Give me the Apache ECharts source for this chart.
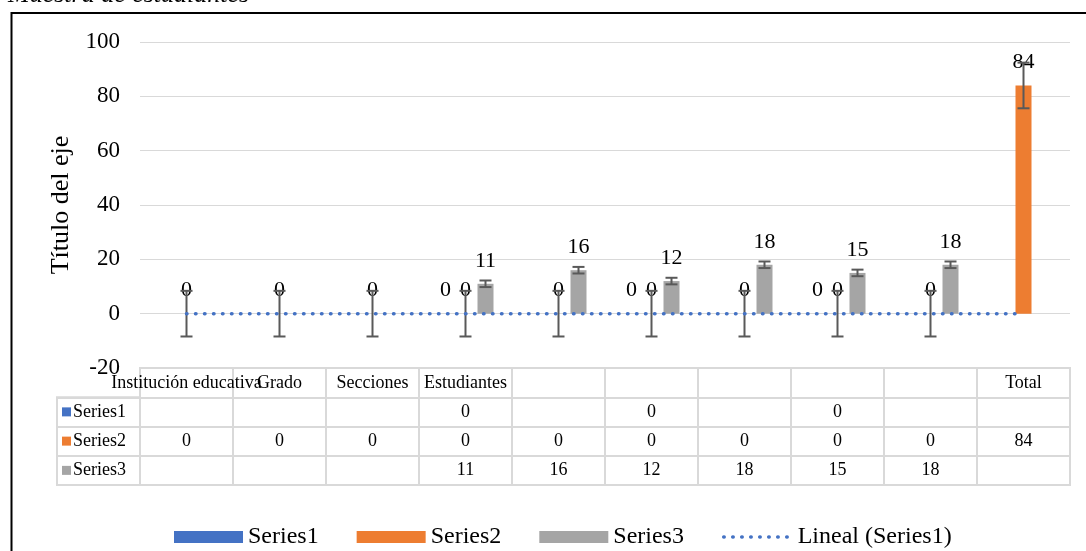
<!DOCTYPE html>
<html><head><meta charset="utf-8">
<script src="https://cdn.jsdelivr.net/npm/echarts@6/dist/echarts.min.js"></script>
<style>html,body{margin:0;padding:0;background:#fff}#c{width:1086px;height:551px}</style>
</head><body><div id="c"></div>
<script>
// ---- data ----
const categories = ['Institución educativa','Grado','Secciones','Estudiantes','','','','','','Total'];
const seriesNames = ['Series1','Series2','Series3'];
const series1 = [null,null,null,0,null,0,null,0,null,null];
const series2 = [0,0,0,0,0,0,0,0,0,84];
const series3 = [null,null,null,11,16,12,18,15,18,null];
const trendName = 'Lineal (Series1)';
const trend1 = [0,0,0,0,0,0,0,0,0,0];
const series2Error = 8.4;
const series3Error = 1.21;
const yMin = -20, yMax = 100, yInterval = 20;
const axisTitle = 'Título del eje';
const chartTitle = 'Muestra de estudiantes';

// ---- style ----
const SERIF = '"Liberation Serif","Times New Roman",serif';
const colors = ['#4472C4','#ED7D31','#A5A5A5'];
const GRID = '#d9d9d9';
const BAR_W = 16, BAR_GAP = 4;
const trendLine = { color: '#4472C4', width: 3.5, type: [0.5, 8.5], cap: 'round' };

const seriesArrs = [series1, series2, series3];
const cellData = [];
seriesArrs.forEach((arr, r) => arr.forEach((v, i) => { if (v != null) cellData.push([i, r + 1, String(v)]); }));

function errData(arr, e) {
  const out = [];
  arr.forEach((v, i) => { if (v != null) out.push([i, v - e, v + e]); });
  return out;
}
function errRender(offset) {
  return function (params, api) {
    const lo = api.coord([api.value(0), api.value(1)]);
    const hi = api.coord([api.value(0), api.value(2)]);
    const x = lo[0] + offset;
    const cw = 6;
    const st = { stroke: '#595959', lineWidth: 2 };
    return { type: 'group', children: [
      { type: 'line', shape: { x1: x, y1: lo[1], x2: x, y2: hi[1] }, style: st },
      { type: 'line', shape: { x1: x - cw, y1: lo[1], x2: x + cw, y2: lo[1] }, style: st },
      { type: 'line', shape: { x1: x - cw, y1: hi[1], x2: x + cw, y2: hi[1] }, style: st }
    ]};
  };
}

const chart = echarts.init(document.getElementById('c'), null, { renderer: 'canvas' });
const labelStyle = { show: true, position: 'top', distance: 12, fontFamily: SERIF, fontSize: 22, color: '#000' };

chart.setOption({
  animation: false,
  color: colors,
  textStyle: { fontFamily: SERIF },
  graphic: [
    { type: 'rect', silent: true, shape: { x: 11.5, y: 13, width: 1200, height: 1000 }, style: { fill: 'none', stroke: '#000', lineWidth: 2 } },
    { type: 'text', silent: true, x: 8, y: 8, style: { text: chartTitle, font: 'italic 26px "Liberation Serif"', fill: '#000', verticalAlign: 'bottom', textVerticalAlign: 'bottom' } }
  ],
  legend: {
    left: 169, top: 520, itemWidth: 69, itemHeight: 12, itemGap: 38,
    textStyle: { fontFamily: SERIF, fontSize: 24, color: '#000' },
    data: [
      { name: seriesNames[0], icon: 'rect' },
      { name: seriesNames[1], icon: 'rect' },
      { name: seriesNames[2], icon: 'rect' },
      { name: trendName, itemStyle: { opacity: 0 }, lineStyle: { color: trendLine.color, width: 3.5, type: [0.5, 8.5], cap: 'round' } }
    ]
  },
  grid: [
    { left: 140, right: 16, top: 42, height: 326 },
    { left: 140, right: 16, top: 368, height: 117, show: true, borderColor: GRID, borderWidth: 2 },
    { left: 57, width: 83, top: 397.25, height: 87.75, show: true, borderColor: GRID, borderWidth: 2 }
  ],
  xAxis: [
    { gridIndex: 0, type: 'category', data: categories,
      axisLine: { show: false, onZero: false }, axisTick: { show: false },
      axisLabel: { interval: 0, hideOverlap: false, margin: 6, fontFamily: SERIF, fontSize: 18, color: '#000' } },
    { gridIndex: 1, type: 'category', data: categories,
      axisLine: { show: false }, axisTick: { show: false }, axisLabel: { show: false },
      splitLine: { show: true, interval: 0, lineStyle: { color: GRID, width: 2 } } },
    { gridIndex: 2, type: 'category', data: [''], show: false }
  ],
  yAxis: [
    { gridIndex: 0, type: 'value', min: yMin, max: yMax, interval: yInterval,
      name: axisTitle, nameLocation: 'middle', nameGap: 65, nameRotate: 90,
      nameTextStyle: { fontFamily: SERIF, fontSize: 26, color: '#000' },
      axisLine: { show: false }, axisTick: { show: false },
      axisLabel: { margin: 20, fontFamily: SERIF, fontSize: 23, color: '#000' },
      splitLine: { lineStyle: { color: GRID, width: 1 } } },
    { gridIndex: 1, type: 'category', inverse: true, data: ['', seriesNames[0], seriesNames[1], seriesNames[2]],
      axisLine: { show: false }, axisTick: { show: false }, axisLabel: { show: false },
      splitLine: { show: true, interval: 0, lineStyle: { color: GRID, width: 2 } } },
    { gridIndex: 2, type: 'category', inverse: true, data: seriesNames,
      axisLine: { show: false }, axisTick: { show: false },
      splitLine: { show: true, interval: 0, lineStyle: { color: GRID, width: 2 } },
      axisLabel: { inside: true, margin: 5,
        formatter: (v, i) => '{k' + i + '|}{t|' + v + '}',
        rich: {
          k0: { width: 9, height: 9, backgroundColor: colors[0] },
          k1: { width: 9, height: 9, backgroundColor: colors[1] },
          k2: { width: 9, height: 9, backgroundColor: colors[2] },
          t: { fontFamily: SERIF, fontSize: 18, color: '#000', padding: [0, 0, 0, 2] }
        } } }
  ],
  series: [
    { name: trendName, type: 'line', xAxisIndex: 0, yAxisIndex: 0, data: trend1,
      symbol: 'none', showSymbol: false, silent: true,
      lineStyle: trendLine,
      itemStyle: { color: '#4472C4', opacity: 0 } },
    { name: seriesNames[0], type: 'bar', xAxisIndex: 0, yAxisIndex: 0, data: series1,
      barWidth: BAR_W, barGap: '25%', label: labelStyle },
    { name: seriesNames[1], type: 'bar', xAxisIndex: 0, yAxisIndex: 0, data: series2,
      barWidth: BAR_W, barGap: '25%', label: labelStyle },
    { name: seriesNames[2], type: 'bar', xAxisIndex: 0, yAxisIndex: 0, data: series3,
      barWidth: BAR_W, barGap: '25%', label: labelStyle },
    { name: 'err2', type: 'custom', xAxisIndex: 0, yAxisIndex: 0, z: 3, silent: true,
      data: errData(series2, series2Error), encode: { x: 0, y: [1, 2] },
      renderItem: errRender(0) },
    { name: 'err3', type: 'custom', xAxisIndex: 0, yAxisIndex: 0, z: 3, silent: true,
      data: errData(series3, series3Error), encode: { x: 0, y: [1, 2] },
      renderItem: errRender(BAR_W + BAR_GAP) },
    { name: 'table', type: 'custom', xAxisIndex: 1, yAxisIndex: 1, silent: true,
      data: cellData, encode: { x: 0, y: 1 },
      renderItem: function (params, api) {
        const p = api.coord([api.value(0), api.value(1)]);
        return { type: 'text', x: p[0], y: p[1], style: {
          text: cellData[params.dataIndex][2], textAlign: 'center', textVerticalAlign: 'middle', verticalAlign: 'middle',
          fontFamily: SERIF, fontSize: 18, fill: '#000' } };
      } }
  ]
});
</script></body></html>
